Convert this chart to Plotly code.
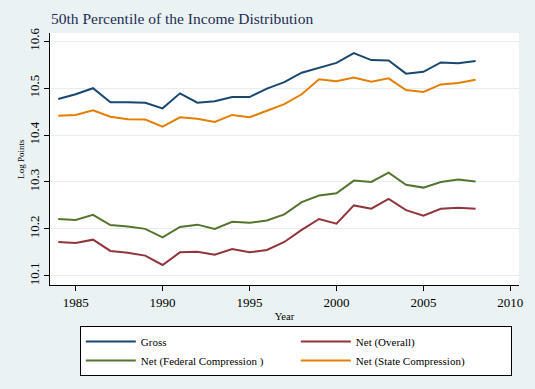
import plotly.graph_objects as go

years = list(range(1984, 2009))
gross = [10.477, 10.487, 10.500, 10.470, 10.470, 10.469, 10.457, 10.489, 10.469, 10.472,
         10.481, 10.481, 10.499, 10.513, 10.533, 10.543, 10.554, 10.575, 10.560, 10.559,
         10.531, 10.535, 10.555, 10.553, 10.558]
net_overall = [10.172, 10.170, 10.177, 10.153, 10.149, 10.143, 10.123, 10.150, 10.151, 10.145,
               10.157, 10.150, 10.155, 10.172, 10.198, 10.221, 10.211, 10.250, 10.243, 10.264,
               10.240, 10.228, 10.243, 10.245, 10.243]
net_federal = [10.221, 10.219, 10.230, 10.208, 10.205, 10.200, 10.182, 10.204, 10.209, 10.200,
               10.215, 10.213, 10.218, 10.231, 10.257, 10.271, 10.276, 10.303, 10.300, 10.320,
               10.294, 10.288, 10.300, 10.305, 10.301]
net_state = [10.441, 10.443, 10.453, 10.439, 10.434, 10.433, 10.418, 10.438, 10.435, 10.428,
             10.443, 10.438, 10.452, 10.466, 10.487, 10.519, 10.515, 10.523, 10.514, 10.521,
             10.496, 10.492, 10.508, 10.511, 10.518]

series_names = ["Gross", "Net (Overall)", "Net (Federal Compression )", "Net (State Compression)"]
series_vals = [gross, net_overall, net_federal, net_state]
colors = ["#1a476f", "#90353b", "#55752f", "#e37e00"]

x_ticks = [1985, 1990, 1995, 2000, 2005, 2010]
y_ticks = [10.1, 10.2, 10.3, 10.4, 10.5, 10.6]

font_family = "Liberation Serif"

fig = go.Figure()
for name, vals, c in zip(series_names, series_vals, colors):
    fig.add_trace(go.Scatter(x=years, y=vals, mode="lines", name=name,
                             line=dict(color=c, width=2)))

fig.update_layout(
    width=535, height=389,
    paper_bgcolor="#eaf2f3",
    plot_bgcolor="#ffffff",
    margin=dict(l=50, r=13, t=33, b=104),
    font=dict(family=font_family, color="#000000"),
    title=dict(text="50th Percentile of the Income Distribution",
               x=51 / 535, xanchor="left", y=1 - 19 / 389, yanchor="middle",
               font=dict(size=15.5, color="#1e2d53", family=font_family)),
    showlegend=True,
    legend=dict(orientation="h", x=(80 - 50) / 472, xanchor="left",
                y=(285 - 326) / 252, yanchor="top",
                bgcolor="#ffffff", bordercolor="#000000", borderwidth=1,
                font=dict(size=11, family=font_family),
                entrywidth=150, entrywidthmode="pixels", itemwidth=50,
                traceorder="normal"),
)
fig.update_xaxes(range=[1983.526, 2010.497], tickvals=x_ticks, ticks="outside", ticklen=5,
                 tickcolor="#000000", showline=True, linecolor="#000000", linewidth=1,
                 showgrid=False, zeroline=False,
                 tickfont=dict(size=13, family=font_family),
                 title=dict(text="Year", font=dict(size=10.5, family=font_family), standoff=4))
fig.update_yaxes(range=[10.0803, 10.6177], tickvals=y_ticks, ticktext=[f"{v:.1f}" for v in y_ticks],
                 ticks="outside", ticklen=5, tickcolor="#000000",
                 showline=True, linecolor="#000000", linewidth=1,
                 showgrid=True, gridcolor="#e6eef0", gridwidth=1, zeroline=False,
                 tickangle=-90, tickfont=dict(size=13, family=font_family),
                 title=dict(text="Log Points", font=dict(size=9, family=font_family), standoff=0))

fig.write_html("out.html", config={"displayModeBar": False},
               post_script="document.body.style.margin='0';document.body.style.overflow='hidden';")
